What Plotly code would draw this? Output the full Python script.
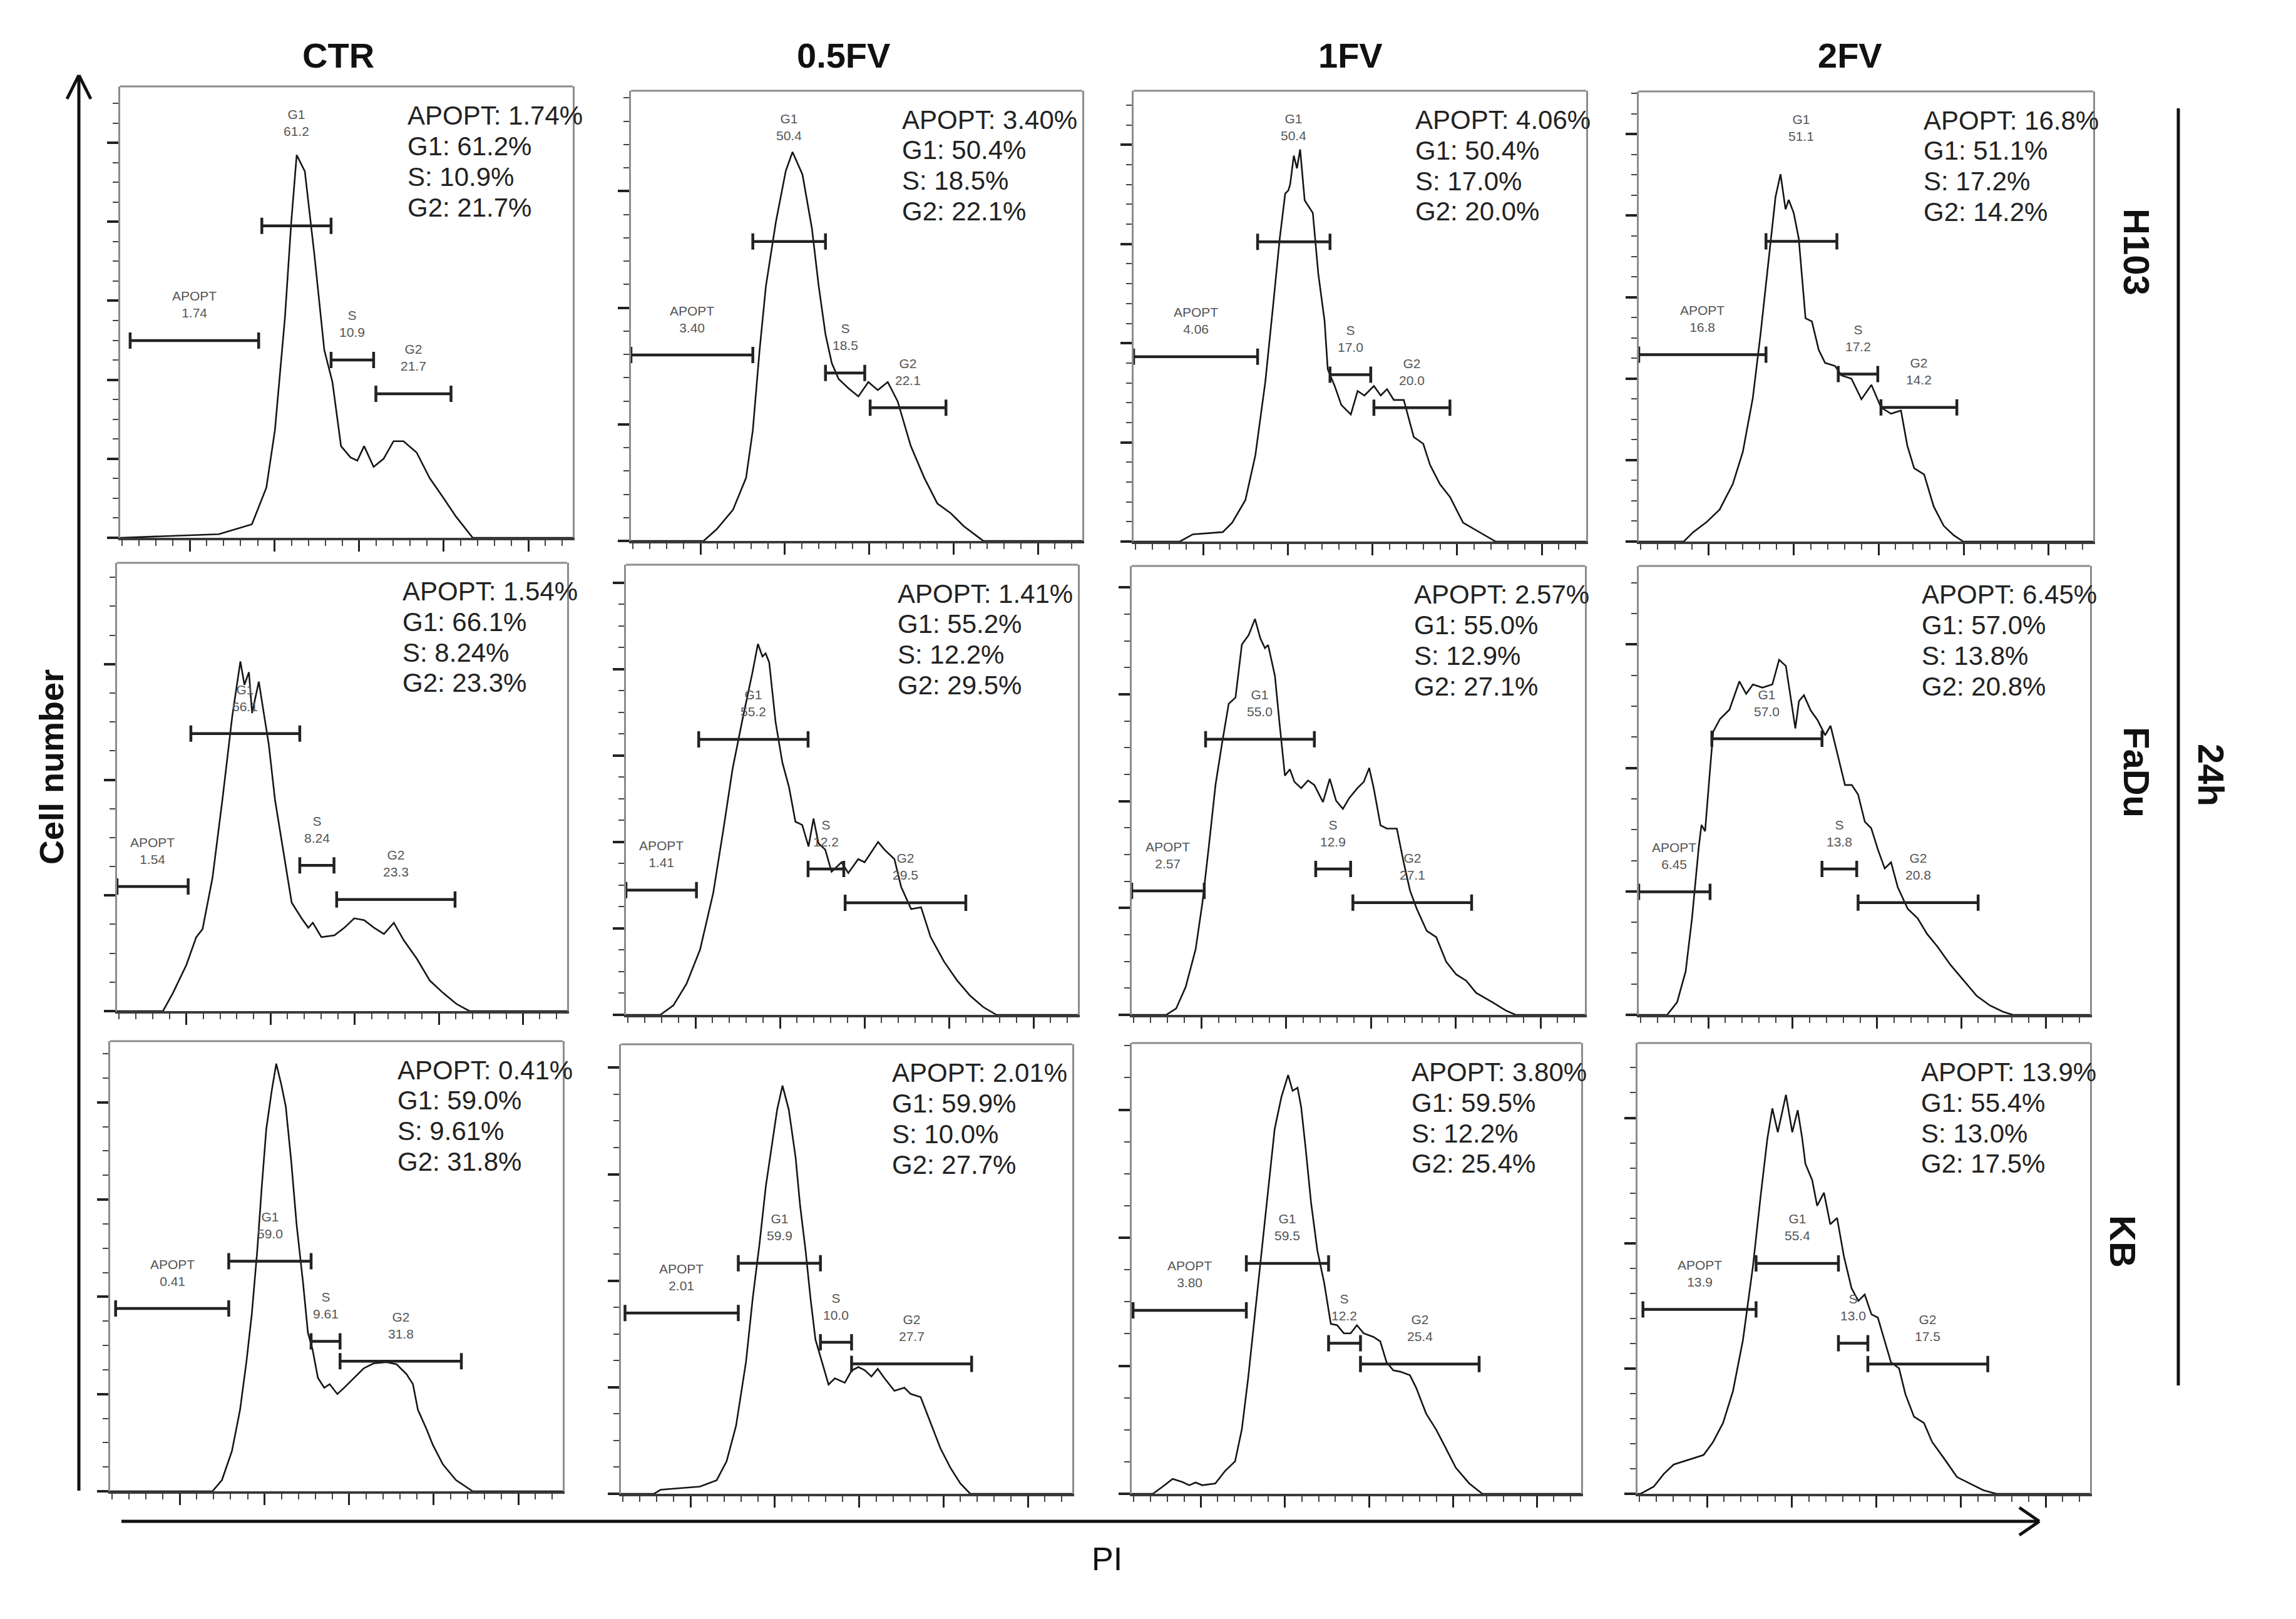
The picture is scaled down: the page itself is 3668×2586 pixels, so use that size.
import plotly.graph_objects as go

# page size and the 8px body margin of the html page
W, H = 3668, 2586
PAGE_MARGIN = 8
FIG_W, FIG_H = W - 2 * PAGE_MARGIN, H - 2 * PAGE_MARGIN

cell_lines = ["H103", "FaDu", "KB"]
treatments = ["CTR", "0.5FV", "1FV", "2FV"]
phases = ["APOPT", "G1", "S", "G2"]

# PI histograms: pi = PI channel (0-100 across the plot), count = cells (0-100 of plot height)
h103_ctr_pi = [0, 15.3, 21.8, 29.1, 32.3, 34.2, 36.4, 37.8, 39.0, 40.8, 42.9, 45.1, 46.9, 48.8, 50.9, 52.4, 53.9, 56.0, 58.2, 60.4, 62.6, 65.5, 68.4, 71.3, 74.2, 77.9, 100]
h103_ctr_count = [0, 0.5, 0.8, 3.0, 11.1, 23.9, 48.7, 69.9, 84.8, 81.2, 62.8, 41.6, 34.5, 20.3, 17.8, 17.1, 20.3, 15.7, 17.5, 21.4, 21.4, 18.9, 13.2, 9.0, 4.7, 0, 0]

h103_05fv_pi = [0, 16.1, 19.0, 22.6, 25.5, 27.0, 28.5, 29.9, 32.1, 34.3, 35.8, 38.0, 40.1, 41.6, 43.1, 44.5, 46.0, 48.2, 50.4, 52.6, 54.7, 56.9, 59.1, 62.0, 65.0, 67.9, 70.8, 73.7, 77.4, 78.1, 100]
h103_05fv_count = [0, 0, 2.6, 6.9, 14.0, 24.6, 42.4, 56.6, 70.8, 82.2, 86.4, 81.4, 69.4, 56.6, 45.9, 39.5, 36.0, 33.9, 32.1, 35.3, 33.5, 35.3, 31.0, 21.1, 14.0, 8.3, 6.2, 3.3, 0.5, 0, 0]

h103_1fv_pi = [0, 10.2, 13.1, 19.7, 21.8, 24.7, 26.9, 29.1, 30.9, 32.3, 33.5, 34.2, 34.6, 35.4, 36.1, 36.8, 37.8, 39.6, 40.8, 42.2, 42.9, 44.4, 45.9, 48.0, 49.5, 51.0, 53.1, 54.6, 56.0, 57.5, 59.7, 61.9, 64.0, 65.5, 67.7, 69.9, 72.8, 76.4, 80.0, 100]
h103_1fv_count = [0, 0, 1.6, 2.1, 4.2, 9.2, 19.1, 35.4, 53.1, 67.3, 77.2, 77.9, 79.3, 85.6, 82.8, 87.0, 75.7, 72.9, 59.5, 48.9, 38.2, 34.6, 30.3, 28.2, 33.4, 32.4, 34.5, 32.4, 33.8, 31.4, 31.4, 23.2, 21.7, 17.0, 12.7, 9.9, 4.2, 2.1, 0, 0]

h103_2fv_pi = [0, 9.9, 12.0, 14.9, 17.8, 20.7, 22.9, 25.1, 26.8, 28.7, 30.1, 31.2, 32.3, 33.0, 34.1, 35.2, 36.7, 38.1, 39.6, 41.0, 43.2, 44.6, 46.8, 49.0, 51.2, 53.3, 55.5, 57.7, 59.1, 60.6, 62.8, 64.9, 67.1, 69.3, 71.4, 100]
h103_2fv_count = [0, 0, 2.1, 4.3, 7.1, 12.8, 19.9, 31.9, 46.1, 63.8, 76.6, 81.6, 73.8, 75.9, 73.0, 67.4, 49.6, 48.9, 42.6, 39.7, 39.0, 36.9, 36.2, 31.6, 34.8, 29.8, 28.4, 29.1, 21.3, 16.3, 14.9, 7.8, 3.5, 1.4, 0, 0]

fadu_ctr_pi = [0, 10.2, 12.4, 15.4, 17.6, 19.0, 21.2, 23.4, 25.6, 26.8, 27.4, 28.3, 29.3, 30.0, 31.5, 32.6, 33.7, 35.1, 37.3, 38.8, 41.0, 42.5, 43.5, 45.4, 48.3, 50.5, 52.7, 54.9, 57.1, 59.3, 61.5, 63.7, 66.6, 69.5, 72.5, 75.4, 78.3, 100]
fadu_ctr_count = [0, 0, 4.0, 10.3, 16.5, 18.3, 29.7, 47.1, 65.8, 73.5, 78.0, 72.8, 75.6, 66.5, 73.5, 66.5, 59.6, 47.1, 33.2, 24.2, 20.7, 18.6, 19.7, 16.5, 16.9, 18.6, 20.7, 20.3, 18.6, 17.2, 19.7, 15.8, 11.7, 6.8, 4.0, 1.6, 0, 0]

fadu_05fv_pi = [0, 7.6, 10.5, 13.4, 16.4, 19.3, 21.5, 23.6, 25.8, 28.0, 29.2, 30.2, 30.9, 31.7, 33.1, 34.6, 36.1, 37.5, 39.0, 40.4, 41.5, 42.6, 44.1, 45.5, 47.7, 49.2, 51.4, 52.8, 55.8, 57.2, 59.4, 60.9, 63.1, 65.3, 67.4, 70.4, 73.3, 76.2, 79.1, 82.0, 100]
fadu_05fv_count = [0, 0, 2.1, 6.9, 14.5, 27.0, 40.8, 54.7, 65.7, 76.1, 82.4, 79.6, 80.3, 78.3, 65.1, 56.1, 50.5, 42.9, 42.2, 37.4, 43.6, 38.1, 36.7, 31.8, 33.9, 31.5, 34.6, 33.9, 38.4, 36.7, 34.6, 28.4, 23.5, 23.9, 17.3, 11.8, 7.6, 4.2, 1.7, 0, 0]

fadu_1fv_pi = [0, 7.6, 9.8, 11.9, 14.1, 15.6, 17.0, 18.5, 19.9, 21.4, 22.9, 24.3, 25.8, 27.2, 28.4, 29.4, 30.1, 31.6, 32.6, 33.8, 34.9, 35.9, 37.4, 38.9, 40.3, 42.2, 43.7, 45.1, 46.6, 48.0, 49.8, 51.2, 52.4, 53.4, 54.9, 56.3, 58.5, 60.0, 61.4, 62.9, 65.1, 67.2, 69.4, 71.6, 73.8, 76.0, 79.6, 82.5, 84.7, 100]
fadu_1fv_count = [0, 0, 1.4, 6.2, 14.6, 25.0, 37.4, 51.3, 60.3, 69.3, 70.7, 82.5, 84.6, 88.2, 83.8, 81.7, 82.4, 75.5, 65.1, 53.3, 54.7, 51.9, 50.5, 52.2, 51.2, 47.4, 52.6, 47.7, 45.9, 48.3, 50.5, 51.9, 55.0, 50.5, 42.2, 41.5, 41.5, 34.0, 27.7, 23.6, 18.7, 17.3, 11.8, 9.0, 7.6, 4.9, 2.8, 1.0, 0, 0]

fadu_2fv_pi = [0, 6.3, 8.5, 10.4, 11.8, 13.3, 13.9, 14.7, 15.8, 16.5, 18.0, 20.1, 22.3, 23.8, 25.3, 27.4, 29.6, 31.1, 32.6, 33.7, 34.7, 35.5, 36.6, 38.1, 39.6, 41.3, 42.5, 44.2, 45.7, 47.2, 48.6, 50.1, 51.5, 53.0, 54.5, 55.9, 57.4, 59.6, 61.8, 63.9, 66.1, 69.1, 72.0, 74.9, 77.8, 80.7, 82.9, 100]
fadu_2fv_count = [0, 0, 2.8, 9.7, 21.5, 37.4, 42.3, 40.9, 54.7, 63.1, 65.9, 68.0, 74.3, 71.5, 73.6, 72.9, 73.6, 79.1, 77.7, 70.7, 63.8, 69.9, 71.2, 67.8, 65.7, 62.3, 64.4, 57.4, 51.2, 51.2, 49.1, 43.0, 41.6, 36.8, 32.6, 34.0, 28.4, 23.6, 21.5, 18.0, 15.3, 11.1, 7.6, 4.2, 2.1, 0.7, 0, 0]

kb_ctr_pi = [0, 22.6, 24.7, 26.9, 28.7, 30.1, 31.3, 32.5, 33.5, 34.5, 35.7, 36.7, 37.8, 38.8, 40.0, 41.2, 42.6, 43.7, 44.7, 45.9, 47.3, 48.5, 50.2, 51.7, 53.9, 56.0, 58.2, 61.1, 63.3, 65.5, 66.9, 68.0, 69.9, 71.3, 73.5, 76.4, 80.1, 100]
kb_ctr_count = [0, 0, 2.5, 8.9, 18.1, 28.7, 39.4, 53.5, 67.7, 80.5, 89.0, 95.0, 90.4, 85.5, 73.4, 59.2, 46.5, 35.2, 31.6, 25.2, 23.0, 23.8, 21.6, 23.0, 25.2, 27.3, 28.4, 28.7, 28.2, 26.0, 23.8, 18.1, 13.8, 10.3, 6.0, 2.5, 0, 0]

kb_05fv_pi = [0, 7.3, 8.8, 17.5, 21.2, 23.4, 25.5, 27.7, 29.2, 30.7, 32.1, 33.3, 34.6, 35.8, 37.2, 38.7, 39.7, 40.9, 42.0, 43.1, 44.5, 46.0, 47.4, 49.6, 51.1, 52.6, 54.0, 55.5, 56.9, 58.4, 60.6, 62.8, 64.2, 66.4, 68.6, 70.8, 73.0, 75.2, 77.4, 100]
kb_05fv_count = [0, 0, 0.9, 1.6, 3.0, 7.2, 15.1, 29.3, 43.5, 55.6, 68.4, 76.9, 85.4, 90.8, 85.4, 74.8, 64.1, 54.2, 43.5, 34.3, 29.3, 24.3, 25.7, 24.7, 27.4, 28.2, 27.5, 26.1, 27.8, 25.7, 22.9, 23.6, 22.2, 21.5, 15.8, 10.1, 5.8, 2.3, 0, 0]

kb_1fv_pi = [0, 4.7, 6.9, 9.1, 11.3, 12.8, 14.2, 15.7, 18.6, 20.8, 23.0, 24.5, 25.9, 27.4, 28.9, 30.4, 31.8, 33.3, 34.8, 35.8, 36.9, 37.7, 38.7, 39.9, 41.3, 42.8, 44.3, 45.7, 47.2, 48.7, 50.1, 51.6, 53.8, 55.3, 56.7, 58.2, 59.7, 61.9, 63.3, 65.5, 67.7, 69.9, 72.1, 75.1, 78.0, 100]
kb_1fv_count = [0, 0, 1.6, 3.3, 2.6, 1.9, 2.5, 1.9, 2.3, 5.1, 7.2, 14.3, 25.6, 39.8, 54.0, 68.1, 80.9, 88.0, 92.9, 89.4, 90.1, 85.8, 76.6, 64.6, 54.0, 46.9, 37.7, 37.4, 35.6, 35.6, 37.4, 35.6, 34.8, 33.8, 29.2, 27.4, 27.1, 26.3, 23.5, 17.8, 14.3, 10.1, 5.8, 2.3, 0, 0]

kb_2fv_pi = [0, 0.7, 3.6, 5.8, 8.0, 10.2, 12.4, 14.6, 16.7, 18.9, 21.1, 23.3, 25.5, 27.2, 28.7, 29.8, 31.0, 32.8, 34.2, 35.4, 36.4, 37.1, 38.6, 39.7, 41.2, 42.6, 44.1, 45.6, 47.3, 48.8, 50.2, 51.7, 53.1, 54.6, 56.0, 57.8, 59.2, 61.1, 63.3, 65.1, 67.7, 70.6, 73.5, 76.4, 79.3, 100]
kb_2fv_count = [0, 0, 1.6, 4.4, 6.5, 7.2, 7.9, 8.6, 11.5, 15.7, 22.8, 34.1, 50.4, 66.0, 78.8, 85.5, 80.2, 88.5, 80.2, 85.1, 78.8, 73.2, 69.6, 63.9, 66.8, 59.8, 61.2, 52.7, 45.6, 42.8, 44.2, 39.8, 39.1, 34.1, 29.2, 27.8, 22.1, 17.1, 15.7, 11.5, 7.9, 3.7, 2.3, 0.8, 0, 0]

# gates (start, end, marker height) for APOPT, G1, S, G2
h103_ctr_gates = [(2.2, 30.6, 43.7), (31.3, 46.6, 69.1), (46.6, 56.0, 39.4), (56.5, 73.1, 31.9)]
h103_05fv_gates = [(0, 27.0, 41.3), (27.0, 43.1, 66.5), (43.1, 51.8, 37.3), (53.0, 69.8, 29.6)]
h103_1fv_gates = [(0, 27.4, 41.0), (27.4, 43.4, 66.5), (43.4, 52.4, 37.0), (53.1, 69.9, 29.7)]
h103_2fv_gates = [(0, 28.0, 41.5), (28.0, 43.6, 66.7), (43.9, 52.6, 37.2), (53.3, 70.0, 29.8)]
fadu_ctr_gates = [(0, 15.8, 27.8), (16.4, 40.6, 61.9), (40.6, 48.2, 32.5), (48.8, 75.1, 24.9)]
fadu_05fv_gates = [(0, 15.6, 27.7), (16.1, 40.3, 61.2), (40.3, 48.2, 32.4), (48.5, 75.2, 24.9)]
fadu_1fv_gates = [(0, 16.0, 27.6), (16.3, 40.3, 61.4), (40.6, 48.3, 32.5), (48.8, 75.0, 25.0)]
fadu_2fv_gates = [(0, 15.8, 27.4), (16.2, 40.6, 61.5), (40.6, 48.3, 32.5), (48.6, 75.2, 25.0)]
kb_ctr_gates = [(1.2, 26.2, 40.6), (26.2, 44.4, 51.1), (44.4, 50.8, 33.3), (50.8, 77.6, 28.9)]
kb_05fv_gates = [(0.9, 26.0, 40.2), (26.0, 44.2, 51.3), (44.2, 51.1, 33.7), (51.1, 77.7, 28.9)]
kb_1fv_gates = [(0.3, 25.5, 40.7), (25.5, 43.8, 51.1), (43.8, 50.9, 33.4), (50.9, 77.3, 28.8)]
kb_2fv_gates = [(1.2, 26.2, 40.9), (26.2, 44.4, 51.1), (44.4, 50.9, 33.4), (50.9, 77.4, 28.8)]

# percentages APOPT, G1, S, G2
h103_ctr_pct = ["1.74", "61.2", "10.9", "21.7"]
h103_05fv_pct = ["3.40", "50.4", "18.5", "22.1"]
h103_1fv_pct = ["4.06", "50.4", "17.0", "20.0"]
h103_2fv_pct = ["16.8", "51.1", "17.2", "14.2"]
fadu_ctr_pct = ["1.54", "66.1", "8.24", "23.3"]
fadu_05fv_pct = ["1.41", "55.2", "12.2", "29.5"]
fadu_1fv_pct = ["2.57", "55.0", "12.9", "27.1"]
fadu_2fv_pct = ["6.45", "57.0", "13.8", "20.8"]
kb_ctr_pct = ["0.41", "59.0", "9.61", "31.8"]
kb_05fv_pct = ["2.01", "59.9", "10.0", "27.7"]
kb_1fv_pct = ["3.80", "59.5", "12.2", "25.4"]
kb_2fv_pct = ["13.9", "55.4", "13.0", "17.5"]

panels = [
    [(h103_ctr_pi, h103_ctr_count, h103_ctr_gates, h103_ctr_pct),
     (h103_05fv_pi, h103_05fv_count, h103_05fv_gates, h103_05fv_pct),
     (h103_1fv_pi, h103_1fv_count, h103_1fv_gates, h103_1fv_pct),
     (h103_2fv_pi, h103_2fv_count, h103_2fv_gates, h103_2fv_pct)],
    [(fadu_ctr_pi, fadu_ctr_count, fadu_ctr_gates, fadu_ctr_pct),
     (fadu_05fv_pi, fadu_05fv_count, fadu_05fv_gates, fadu_05fv_pct),
     (fadu_1fv_pi, fadu_1fv_count, fadu_1fv_gates, fadu_1fv_pct),
     (fadu_2fv_pi, fadu_2fv_count, fadu_2fv_gates, fadu_2fv_pct)],
    [(kb_ctr_pi, kb_ctr_count, kb_ctr_gates, kb_ctr_pct),
     (kb_05fv_pi, kb_05fv_count, kb_05fv_gates, kb_05fv_pct),
     (kb_1fv_pi, kb_1fv_count, kb_1fv_gates, kb_1fv_pct),
     (kb_2fv_pi, kb_2fv_count, kb_2fv_gates, kb_2fv_pct)],
]

# --- layout (page pixel boxes of each plot: left, right, top, bottom) ---
BOX = [
    [(192, 915, 138, 859), (1008, 1729, 145, 864), (1811, 2534, 145, 865), (2618, 3344, 146, 865)],
    [(187, 906, 899, 1615), (1000, 1722, 902, 1621), (1808, 2532, 904, 1621), (2618, 3339, 904, 1621)],
    [(176, 899, 1663, 2382), (992, 1713, 1668, 2386), (1808, 2526, 1666, 2386), (2616, 3339, 1666, 2386)],
]
Y_DTICK = [[17.5, 25.9, 22.0, 18.1], [25.8, 19.2, 23.8, 27.5], [21.6, 23.7, 28.4, 27.8]]
Y_MINOR = [[4, 5, 5, 4], [4, 4, 4, 4], [4, 4, 4, 5]]
STAT_X = [63.2, 59.8, 62.0, 62.4]
TITLE_X = [540, 1347, 2157, 2955]
ROW_LABEL = [(3414, 402), (3414, 1233), (3392, 1983)]
FONT = "Arial, Liberation Sans, sans-serif"


def px(x):
    return (x - PAGE_MARGIN) / FIG_W


def py(y):
    return 1 - (y - PAGE_MARGIN) / FIG_H


fig = go.Figure()
layout = {}

for r, cell in enumerate(cell_lines):
    for c, trt in enumerate(treatments):
        k = r * 4 + c + 1
        xa = "x" if k == 1 else f"x{k}"
        ya = "y" if k == 1 else f"y{k}"
        pi, count, gates, pct = panels[r][c]

        fig.add_trace(go.Scatter(x=pi, y=count, mode="lines",
                                 line=dict(color="#151515", width=2.6),
                                 xaxis=xa, yaxis=ya, showlegend=False, hoverinfo="skip"))

        mid = [(g[0] + g[1]) / 2 for g in gates]
        half = [(g[1] - g[0]) / 2 for g in gates]
        gy = [g[2] for g in gates]
        fig.add_trace(go.Scatter(x=mid, y=gy, mode="markers",
                                 marker=dict(size=1, color="#222"),
                                 error_x=dict(type="data", array=half, symmetric=True,
                                              width=13, thickness=4.5, color="#222"),
                                 xaxis=xa, yaxis=ya, showlegend=False, cliponaxis=False,
                                 hoverinfo="skip"))

        for ph, m, g, v in zip(phases, mid, gy, pct):
            ly = 92 if (ph == "G1" and cell == "H103") else g + 8
            fig.add_annotation(x=m, y=ly, xref=xa, yref=ya, text=f"{ph}<br>{v}",
                               showarrow=False, xanchor="center", yanchor="middle",
                               font=dict(family=FONT, size=21, color="#555"))

        for i, (ph, v) in enumerate(zip(phases, pct)):
            fig.add_annotation(x=STAT_X[c], y=93.6 - 6.8 * i, xref=xa, yref=ya,
                               text=f"{ph}: {v}%", showarrow=False,
                               xanchor="left", yanchor="middle",
                               font=dict(family=FONT, size=42, color="#222"))

        x0, x1, y0, y1 = BOX[r][c]
        layout["xaxis" if k == 1 else f"xaxis{k}"] = dict(
            domain=[px(x0), px(x1)], range=[0, 100], anchor=ya,
            showgrid=False, zeroline=False, showticklabels=False,
            ticks="outside", tick0=15.4, dtick=18.7, ticklen=18, tickwidth=3, tickcolor="#222",
            showline=True, linecolor="#3a3a3a", linewidth=4,
            minor=dict(ticks="outside", tick0=15.4, dtick=3.74, ticklen=9, tickwidth=2, tickcolor="#444"),
            fixedrange=True)
        d = Y_DTICK[r][c]
        layout["yaxis" if k == 1 else f"yaxis{k}"] = dict(
            domain=[py(y1), py(y0)], range=[0, 100], anchor=xa,
            showgrid=False, zeroline=False, showticklabels=False,
            ticks="outside", tick0=0, dtick=d, ticklen=18, tickwidth=4, tickcolor="#222",
            showline=True, mirror=True, linecolor="#8c8c8c", linewidth=3,
            minor=dict(ticks="outside", tick0=0, dtick=d / Y_MINOR[r][c], ticklen=9, tickwidth=2, tickcolor="#444"),
            fixedrange=True)
        fig.add_shape(type="line", xref=f"{xa} domain", yref=f"{ya} domain",
                      x0=0, x1=1, y0=1, y1=1, line=dict(color="#8c8c8c", width=3))

centred = dict(xref="paper", yref="paper", showarrow=False, xanchor="center", yanchor="middle")

# column titles
for c, trt in enumerate(treatments):
    fig.add_annotation(x=px(TITLE_X[c]), y=py(88), text=f"<b>{trt}</b>",
                       font=dict(family=FONT, size=56, color="#111"), **centred)

# row labels
for (lx, lyy), cell in zip(ROW_LABEL, cell_lines):
    fig.add_annotation(x=px(lx), y=py(lyy), text=f"<b>{cell}</b>", textangle=90,
                       font=dict(family=FONT, size=58, color="#111"), **centred)

fig.add_annotation(x=px(3533), y=py(1238), text="<b>24h</b>", textangle=90,
                   font=dict(family=FONT, size=58, color="#111"), **centred)
fig.add_annotation(x=px(82), y=py(1225), text="<b>Cell number</b>", textangle=-90,
                   font=dict(family=FONT, size=54, color="#111"), **centred)
fig.add_annotation(x=px(1768), y=py(2490), text="PI",
                   font=dict(family=FONT, size=52, color="#111"), **centred)

arrow = dict(color="#111", width=5)
shapes = [
    # time bracket line
    dict(type="line", xref="paper", yref="paper", x0=px(3480), x1=px(3480), y0=py(173), y1=py(2213),
         line=dict(color="#111", width=5)),
    # y arrow
    dict(type="line", xref="paper", yref="paper", x0=px(126), x1=px(126), y0=py(2381), y1=py(120), line=arrow),
    dict(type="line", xref="paper", yref="paper", x0=px(107), x1=px(126), y0=py(158), y1=py(120), line=arrow),
    dict(type="line", xref="paper", yref="paper", x0=px(145), x1=px(126), y0=py(158), y1=py(120), line=arrow),
    # x arrow
    dict(type="line", xref="paper", yref="paper", x0=px(194), x1=px(3258), y0=py(2430), y1=py(2430), line=arrow),
    dict(type="line", xref="paper", yref="paper", x0=px(3226), x1=px(3258), y0=py(2408), y1=py(2430), line=arrow),
    dict(type="line", xref="paper", yref="paper", x0=px(3226), x1=px(3258), y0=py(2452), y1=py(2430), line=arrow),
]
for s in shapes:
    fig.add_shape(**s)

fig.update_layout(
    width=FIG_W, height=FIG_H,
    margin=dict(l=0, r=0, t=0, b=0),
    paper_bgcolor="white", plot_bgcolor="white",
    showlegend=False,
    **layout,
)

fig.write_html("out.html", config={"displayModeBar": False})
